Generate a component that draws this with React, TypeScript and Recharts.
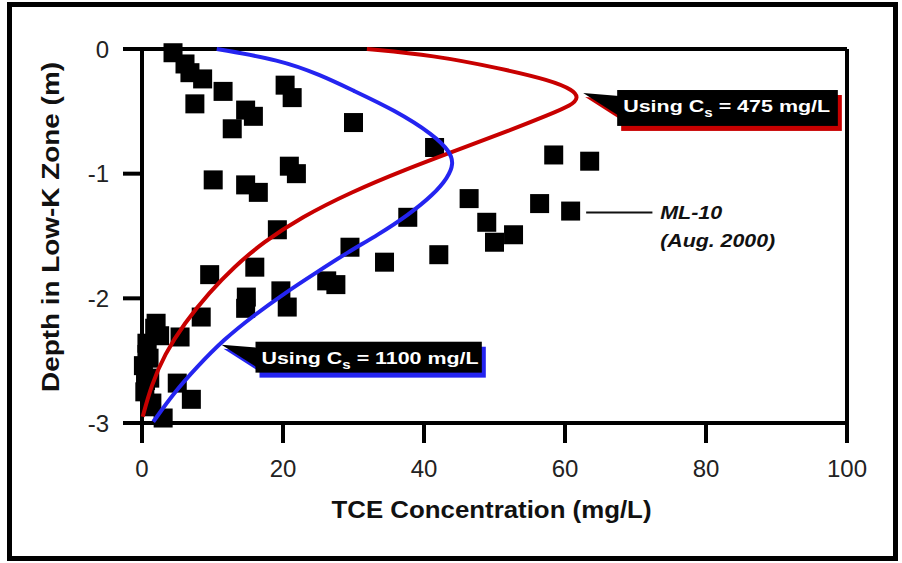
import React from 'react'
import {
  ScatterChart, Scatter, XAxis, YAxis, ReferenceLine, ReferenceArea, ReferenceDot, Label,
} from 'recharts'

// ML-10 (Aug. 2000) measurements
const ml10Conc = [4.4, 6.1, 6.8, 8.6, 11.5, 7.5, 20.3, 21.3, 14.7, 15.8, 12.8, 30.0, 41.5, 10.1, 20.9, 21.9, 14.7, 16.5,
  46.4, 37.7, 19.2, 58.4, 63.5, 56.4, 60.8, 48.9, 52.7, 50.0, 42.1, 29.5, 34.4, 9.6, 16.0, 26.2, 27.5, 19.7, 14.8,
  14.7, 20.6, 8.4, 1.8, 2.5, 5.4, 0.7, 0.2, 1.1, 5.0, 0.4, 7.0, 1.4, 3.0, 0.7, 1.2, 2.0, 1.0, 0.5]
const ml10Depth = [-0.03, -0.12, -0.19, -0.24, -0.34, -0.44, -0.29, -0.39, -0.49, -0.54, -0.64, -0.59, -0.79, -1.05, -0.94, -1.0, -1.09, -1.15,
  -1.2, -1.35, -1.45, -0.85, -0.9, -1.24, -1.3, -1.39, -1.49, -1.55, -1.65, -1.59, -1.71, -1.81, -1.75, -1.86, -1.89, -1.94, -1.99,
  -2.08, -2.07, -2.15, -2.24, -2.3, -2.31, -2.36, -2.54, -2.64, -2.68, -2.75, -2.81, -2.84, -2.96, -2.45, -2.87, -2.2, -2.48, -2.66]

// model, Cs = 475 mg/L
const cs475Conc = [31.9, 41.3, 50.8, 57.9, 61.2, 61.9, 61.0, 57.6, 52.3, 45.2, 37.2, 29.6, 22.6, 17.2, 13.0, 9.6, 6.0, 3.2, 1.3, 0.1]
const cs475Depth = [0, -0.05, -0.155, -0.25, -0.33, -0.39, -0.45, -0.53, -0.65, -0.8, -0.97, -1.15, -1.35, -1.55, -1.75, -1.95, -2.2, -2.45, -2.7, -2.95]

// model, Cs = 1100 mg/L
const cs1100Conc = [10.6, 19.6, 25.3, 29.8, 35.8, 41.4, 43.7, 44.2, 43.4, 41.3, 37.8, 33.5, 29.2, 24.8, 20.2, 15.8, 11.6, 7.8, 4.5, 1.6]
const cs1100Depth = [0, -0.088, -0.208, -0.329, -0.489, -0.689, -0.825, -0.92, -1.03, -1.17, -1.33, -1.49, -1.63, -1.79, -1.96, -2.14, -2.33, -2.55, -2.76, -2.99]

const xTicks = [0, 20, 40, 60, 80, 100]
const yTicks = [0, -1, -2, -3]

const zip = (xs: number[], ys: number[]) => xs.map((x, i) => ({ x, y: ys[i] }))

const ml10 = zip(ml10Conc, ml10Depth)
const cs475 = zip(cs475Conc, cs475Depth)
const cs1100 = zip(cs1100Conc, cs1100Depth)

const FONT = '"Liberation Sans", Arial, sans-serif'
const RED = '#c80000'
const BLUE = '#2424f0'

const Square = (props: any) => {
  const { cx, cy } = props
  if (cx == null || cy == null) return <g />
  return <rect x={cx - 9.5} y={cy - 9.5} width={19} height={19} fill='#000' />
}

const NoDot = () => <g />

const callout = (value: string, rest: string, color: string, textLen: number) => (props: any) => {
  const { x, y, width, height } = props
  const tri = (dx: number, dy: number) =>
    `${x - 34 + dx},${y + 3 + dy} ${x + 2 + dx},${y + 6 + dy} ${x + 2 + dx},${y + 26 + dy}`
  return (
    <g>
      <polygon points={tri(2, 4)} fill={color} />
      <rect x={x + 4} y={y + 5} width={width} height={height} fill={color} />
      <polygon points={tri(0, 0)} fill='#000' />
      <rect x={x} y={y} width={width} height={height} fill='#000' />
      <text x={x + 6} y={y + 22} fill='#fff' fontFamily={FONT} fontWeight='bold' fontSize={17}
        textLength={textLen} lengthAdjust='spacingAndGlyphs'>
        {value}<tspan fontSize={12} dy={5}>s</tspan><tspan dy={-5}>{rest}</tspan>
      </text>
    </g>
  )
}

const MlLabel = (props: any) => {
  const { cx, cy } = props
  return (
    <g fontFamily={FONT} fontWeight='bold' fontStyle='italic' fontSize={18} fill='#111'>
      <text x={cx} y={cy} textLength={62} lengthAdjust='spacingAndGlyphs'>ML-10</text>
      <text x={cx} y={cy + 28} textLength={115} lengthAdjust='spacingAndGlyphs'>(Aug. 2000)</text>
    </g>
  )
}

const XTitle = (props: any) => {
  const vb = props.viewBox
  if (!vb) return null
  return (
    <text x={vb.x + vb.width / 2 - 3} y={vb.y + 95} textAnchor='middle' fontFamily={FONT} fontWeight='bold'
      fontSize={23} fill='#111' textLength={320} lengthAdjust='spacingAndGlyphs'>
      TCE Concentration (mg/L)
    </text>
  )
}

const YTitle = (props: any) => {
  const vb = props.viewBox
  if (!vb) return null
  const x = vb.x + vb.width - 83
  const y = vb.y + vb.height / 2 - 9
  return (
    <text x={x} y={y} transform={`rotate(-90, ${x}, ${y})`} textAnchor='middle' fontFamily={FONT}
      fontWeight='bold' fontSize={24} fill='#111' textLength={330} lengthAdjust='spacingAndGlyphs'>
      Depth in Low-K Zone (m)
    </text>
  )
}

export default function App() {
  const tick = { fontFamily: FONT, fontSize: 24, fill: '#222' }
  return (
    <div style={{ position: 'absolute', left: 0, top: 0, width: 902, height: 563, background: '#fff' }}>
      <div style={{
        position: 'absolute', left: 7, top: 2, width: 891, height: 559,
        border: '5px solid #000', boxSizing: 'border-box',
      }} />
      <ScatterChart width={902} height={563} margin={{ top: 49, right: 55, bottom: 40, left: 42 }}>
        <XAxis type='number' dataKey='x' domain={[0, 100]} ticks={xTicks} height={100}
          axisLine={{ stroke: '#000', strokeWidth: 4 }} tickLine={{ stroke: '#000', strokeWidth: 4 }}
          tickSize={20} tickMargin={17} tick={tick} interval={0}>
          <Label content={<XTitle />} />
        </XAxis>
        <YAxis type='number' dataKey='y' domain={[-3, 0]} ticks={yTicks} width={100}
          axisLine={{ stroke: '#000', strokeWidth: 4 }} tickLine={{ stroke: '#000', strokeWidth: 4 }}
          tickSize={19} tickMargin={14} tick={tick} interval={0}>
          <Label content={<YTitle />} />
        </YAxis>
        <ReferenceLine y={0} stroke='#000' strokeWidth={4} />
        <ReferenceLine x={100} stroke='#000' strokeWidth={4} />
        <Scatter data={ml10} shape={<Square />} isAnimationActive={false} />
        <Scatter data={cs475} shape={<NoDot />} line={{ stroke: RED, strokeWidth: 4 }} lineType='joint'
          lineJointType='basis' isAnimationActive={false} />
        <Scatter data={cs1100} shape={<NoDot />} line={{ stroke: BLUE, strokeWidth: 4 }} lineType='joint'
          lineJointType='basis' isAnimationActive={false} />
        <ReferenceArea x1={67.4} x2={98.7} y1={-0.329} y2={-0.617} ifOverflow='visible'
          shape={callout('Using C', ' = 475 mg/L', RED, 207)} />
        <ReferenceArea x1={16.1} x2={48.2} y1={-2.348} y2={-2.596} ifOverflow='visible'
          shape={callout('Using C', ' = 1100 mg/L', BLUE, 217)} />
        <ReferenceLine segment={[{ x: 63.0, y: -1.312 }, { x: 72.4, y: -1.312 }]} stroke='#111' strokeWidth={2} />
        <ReferenceDot x={73.5} y={-1.362} r={0} ifOverflow='visible' shape={<MlLabel />} />
      </ScatterChart>
    </div>
  )
}
